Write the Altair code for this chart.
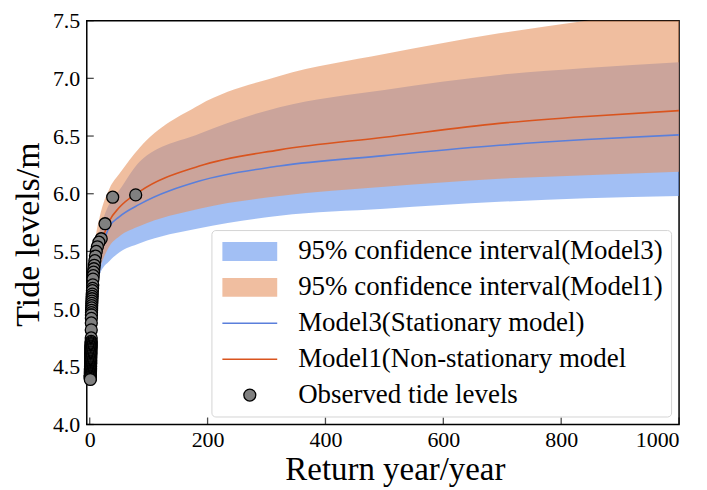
import altair as alt
import pandas as pd

# ---------------- data ----------------
curve_x = [1.5, 3, 5, 10, 17, 34, 50, 85, 186, 322, 500, 695, 842, 1000]
m1_line = [4.78, 5.05, 5.20, 5.40, 5.53, 5.77, 5.88, 6.02, 6.24, 6.38, 6.49, 6.61, 6.67, 6.72]
m3_line = [4.76, 5.00, 5.15, 5.35, 5.48, 5.72, 5.80, 5.91, 6.11, 6.24, 6.33, 6.42, 6.47, 6.51]
m1_upper = [4.85, 5.20, 5.38, 5.62, 5.80, 6.05, 6.17, 6.40, 6.77, 7.02, 7.21, 7.39, 7.50, 7.60]
m1_lower = [4.72, 4.92, 5.05, 5.22, 5.35, 5.55, 5.63, 5.72, 5.87, 5.98, 6.06, 6.13, 6.16, 6.19]
m3_upper = [4.82, 5.12, 5.30, 5.52, 5.68, 5.92, 6.03, 6.28, 6.52, 6.75, 6.90, 7.03, 7.09, 7.14]
m3_lower = [4.70, 4.88, 5.02, 5.18, 5.30, 5.42, 5.49, 5.57, 5.70, 5.81, 5.87, 5.93, 5.96, 5.98]

obs_return = [78, 39, 26, 19.5, 15.6, 13, 11.1, 9.75, 8.67, 7.8,
              7.09, 6.5, 6.0, 5.57, 5.2, 4.88, 4.59, 4.33, 4.11, 3.9,
              3.71, 3.55, 3.39, 3.25, 3.12, 3.0, 2.89, 2.79, 2.69, 2.6,
              2.52, 2.44, 2.36, 2.29, 2.23, 2.17, 2.11, 2.05, 2.0, 1.95,
              1.9, 1.86, 1.81, 1.77, 1.73, 1.7, 1.66, 1.63, 1.59, 1.56,
              1.53, 1.5, 1.47, 1.44, 1.42, 1.39, 1.37, 1.34, 1.32, 1.3,
              1.28, 1.26, 1.24, 1.22, 1.2, 1.18, 1.16, 1.15, 1.13, 1.11,
              1.1, 1.08, 1.07, 1.05, 1.04, 1.03, 1.01]
obs_level = [5.99, 5.97, 5.74, 5.61, 5.58, 5.54, 5.50, 5.46, 5.42, 5.38,
             5.35, 5.32, 5.29, 5.26, 5.21, 5.18, 5.16, 5.13, 5.11, 5.09,
             5.07, 5.05, 5.03, 5.01, 4.99, 4.97, 4.95, 4.92, 4.88, 4.82,
             4.75, 4.72, 4.71, 4.70, 4.69, 4.68, 4.67, 4.66, 4.65, 4.64,
             4.63, 4.62, 4.61, 4.60, 4.59, 4.58, 4.57, 4.56, 4.55, 4.54,
             4.53, 4.53, 4.52, 4.51, 4.50, 4.50, 4.49, 4.48, 4.48, 4.47,
             4.47, 4.46, 4.46, 4.45, 4.45, 4.44, 4.44, 4.43, 4.43, 4.42,
             4.42, 4.42, 4.41, 4.41, 4.40, 4.40, 4.39]

x_ticks = [0, 200, 400, 600, 800, 1000]
y_ticks = [4.0, 4.5, 5.0, 5.5, 6.0, 6.5, 7.0, 7.5]

labels = ["95% confidence interval(Model3)", "95% confidence interval(Model1)",
          "Model3(Stationary model)", "Model1(Non-stationary model",
          "Observed tide levels"]
band3_color = "#6495ED"
band1_color = "#E6935F"
line3_color = "#5A7FDB"
line1_color = "#D9541E"
obs_color = "#808080"
# legend swatch colours (band colours as they look at 60% opacity on white)
legend_fill = ["#A2BFF4", "#F0BEA0", line3_color, line1_color, obs_color]
legend_stroke = ["transparent", "transparent", "transparent", "transparent", "black"]

BAND = "M-2.75,-0.95H2.75V0.95H-2.75Z"
LINE = "M-2.75,-0.08H2.75V0.08H-2.75Z"
DOT = "M-0.6,0A0.6,0.6,0,1,1,0.6,0A0.6,0.6,0,1,1,-0.6,0Z"
legend_shape = [BAND, BAND, LINE, LINE, DOT]

# ---------------- tables ----------------
band3 = pd.DataFrame({"x": curve_x, "lo": m3_lower, "hi": m3_upper})
band1 = pd.DataFrame({"x": curve_x, "lo": m1_lower, "hi": m1_upper})
line3 = pd.DataFrame({"x": curve_x, "y": m3_line})
line1 = pd.DataFrame({"x": curve_x, "y": m1_line})
obs = pd.DataFrame({"x": obs_return, "y": obs_level, "series": [labels[4]] * len(obs_return)})
xt = pd.DataFrame({"x": x_ticks})
yt = pd.DataFrame({"y": y_ticks})

FONT = "Liberation Serif"
H = 405

legend = alt.Legend(
    title=None, orient="none", legendX=125, legendY=210,
    fillColor="white", strokeColor="#d4d4d4", cornerRadius=4, padding=8,
    labelFont=FONT, labelFontSize=27, labelColor="black", labelLimit=600,
    symbolSize=400, symbolOffset=17, labelOffset=35, rowPadding=8,
    symbolStrokeWidth=1.3,
)

xenc = alt.X("x:Q", scale=alt.Scale(domain=[-5, 1000], nice=False, zero=False),
             axis=alt.Axis(values=x_ticks, format="d", title="Return year/year", grid=False,
                           domain=False, ticks=False, tickSize=0, labelFont=FONT,
                           labelFontSize=22, labelColor="black", labelPadding=5,
                           titleFont=FONT, titleFontSize=33, titleFontWeight="normal",
                           titleColor="black", titlePadding=3, titleX=309))
yscale = alt.Scale(domain=[4.0, 7.5], nice=False, zero=False)
yaxis = alt.Axis(values=y_ticks, format=".1f", title="Tide levels/m", grid=False, domain=False,
                 ticks=False, tickSize=0, labelFont=FONT, labelFontSize=22, labelColor="black",
                 labelPadding=7, titleFont=FONT, titleFontSize=34, titleFontWeight="normal",
                 titleColor="black", titleX=-58, titleY=214, titleBaseline="middle")

b3 = alt.Chart(band3).mark_area(opacity=0.6, clip=True, interpolate="monotone",
                                color=band3_color).encode(
    x=xenc, y=alt.Y("lo:Q", scale=yscale, axis=yaxis), y2="hi:Q")
b1 = alt.Chart(band1).mark_area(opacity=0.6, clip=True, interpolate="monotone",
                                color=band1_color).encode(x="x:Q", y="lo:Q", y2="hi:Q")
l3 = alt.Chart(line3).mark_line(strokeWidth=1.6, clip=True, interpolate="monotone",
                                color=line3_color).encode(x="x:Q", y="y:Q")
l1 = alt.Chart(line1).mark_line(strokeWidth=1.6, clip=True, interpolate="monotone",
                                color=line1_color).encode(x="x:Q", y="y:Q")
pts = alt.Chart(obs).mark_point(filled=True, size=400, opacity=1, strokeWidth=1.3).encode(
    x="x:Q", y="y:Q",
    color=alt.Color("series:N", scale=alt.Scale(domain=labels, range=legend_fill), legend=legend),
    shape=alt.Shape("series:N", scale=alt.Scale(domain=labels, range=legend_shape), legend=legend),
    stroke=alt.Stroke("series:N", scale=alt.Scale(domain=labels, range=legend_stroke), legend=legend),
)
xtk = alt.Chart(xt).mark_tick(orient="vertical", size=7, thickness=1.3, color="black").encode(
    x="x:Q", y=alt.value(H - 3.5))
ytk = alt.Chart(yt).mark_tick(orient="horizontal", size=7, thickness=1.3, color="black").encode(
    y="y:Q", x=alt.value(3.5))

chart = alt.layer(b3, b1, l3, l1, pts, xtk, ytk).properties(
    width=594, height=H,
    padding={"left": 79, "top": 12, "right": 20, "bottom": 65},
    autosize=alt.AutoSizeParams(type="none"),
    background="white",
).configure(font=FONT).configure_view(stroke="black", strokeWidth=1.5).configure_axis(
    labelFont=FONT, titleFont=FONT, labelColor="black", titleColor="black"
).configure_legend(labelFont=FONT)

chart.save("out.html", embed_options={"renderer": "svg", "actions": False})
